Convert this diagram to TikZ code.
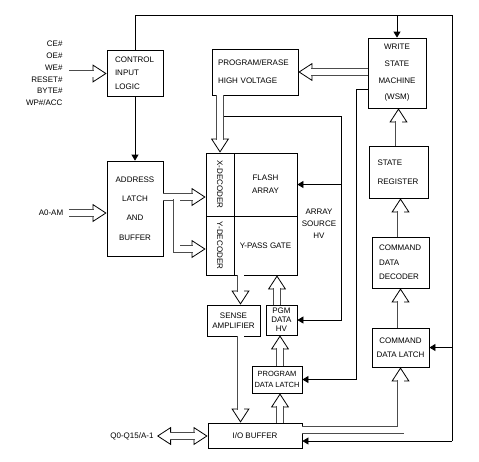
\documentclass[tikz,border=0pt]{standalone}
\usepackage{fontspec}
\setmainfont{Liberation Sans}
\usepackage{graphicx}
\usetikzlibrary{arrows.meta}

\tikzset{
  blk/.style={draw, line width=0.8pt, inner sep=0pt, align=center, font=\fontsize{8}{9.5}\selectfont},
  lbl/.style={font=\fontsize{8}{9.5}\selectfont, align=center},
  wire/.style={line width=0.8pt},
  sig/.style={line width=0.8pt, -{Triangle[length=6pt,width=7pt]}},
  bus/.style={line width=0.8pt, -{Triangle[open,length=14pt,width=18pt]},
    postaction={draw=black!70, double=white, double distance=6pt, shorten >=13pt, arrows=-}},
  busboth/.style={line width=0.8pt, {Triangle[open,length=14pt,width=18pt]}-{Triangle[open,length=14pt,width=18pt]},
    postaction={draw=black!70, double=white, double distance=6pt, shorten >=13pt, shorten <=13pt, arrows=-}},
}

\begin{document}
\begin{tikzpicture}[x=1pt, y=-1pt]
    \useasboundingbox (0,0) rectangle (479,461);

    % Blocos
    \node[blk, minimum width=56pt, minimum height=46pt, text width=40pt, align=left] (ctrl) at (135,73) {CONTROL\\[4pt]INPUT\\[4pt]LOGIC};
    \node[blk, minimum width=86pt, minimum height=46pt, text width=74pt, align=left] (pe) at (255,72) {PROGRAM/ERASE\\[8.5pt]HIGH VOLTAGE};
    \node[blk, minimum width=58pt, minimum height=70pt] (wsm) at (397,73) {WRITE\\[7.2pt]STATE\\[7.2pt]MACHINE\\[7.2pt](WSM)};
    \node[blk, minimum width=56pt, minimum height=95pt] (addr) at (135,208.5) {ADDRESS\\[9.8pt]LATCH\\[9.8pt]AND\\[9.8pt]BUFFER};
    \node[blk, minimum width=28pt, minimum height=63pt] (xdec) at (220,184.5) {\rotatebox{-90}{X-DECODER}};
    \node[blk, minimum width=28pt, minimum height=59pt] (ydec) at (220,245.5) {\rotatebox{-90}{Y-DECODER}};
    \node[blk, minimum width=63pt, minimum height=63pt] (flash) at (265.5,184.5) {FLASH\\[3.5pt]ARRAY};
    \node[blk, minimum width=63pt, minimum height=59pt] (ypass) at (265.5,245.5) {Y-PASS GATE};
    \node[blk, minimum width=53pt, minimum height=31pt] (sense) at (233.5,320.5) {SENSE\\AMPLIFIER};
    \node[blk, minimum width=31pt, minimum height=30pt] (pgmhv) at (281.5,320) {PGM\\[-0.5pt]DATA\\[-0.5pt]HV};
    \node[blk, minimum width=50pt, minimum height=27pt, font=\fontsize{7.5}{9}\selectfont] (pdl) at (277,379.5) {PROGRAM\\[1.5pt]DATA LATCH};
    \node[blk, minimum width=94pt, minimum height=25pt] (io) at (255,435.5) {I/O BUFFER};
    \node[blk, minimum width=59pt, minimum height=52pt, text width=42pt, align=left] (sreg) at (398.5,172) {STATE\\[9.5pt]REGISTER};
    \node[blk, minimum width=57pt, minimum height=51pt, text width=43pt, align=left] (cdd) at (400.5,262.5) {COMMAND\\[5pt]DATA\\[5pt]DECODER};
    \node[blk, minimum width=57pt, minimum height=39pt] (cdl) at (400.5,347.5) {COMMAND\\[4.5pt]DATA LATCH};

    % Sinais externos
    \node[lbl, anchor=east, align=right] (ctlsig) at (66,73.5) {CE\#\\[2.3pt]OE\#\\[2.3pt]WE\#\\[2.3pt]RESET\#\\[2.3pt]BYTE\#\\[2.3pt]WP\#/ACC};
    \node[lbl] (alab) at (51,213) {A0-AM};
    \node[lbl, anchor=east] (qlab) at (157,436) {Q0-Q15/A-1};
    \node[lbl] (ashv) at (319,224) {ARRAY\\[2.5pt]SOURCE\\[2.5pt]HV};

    % Barramentos (setas largas)
    \draw[bus] ([xshift=3pt]ctlsig.east) -- (ctrl.west |- ctlsig.east);
    \draw[bus] ([xshift=2pt]alab.east) -- (alab.east -| addr.west);
    \draw[busboth] (qlab.east) -- (qlab.east -| io.west);
    \draw[bus] (wsm.west |- pe.east) -- (pe.east);
    \draw[bus] (xdec.north |- pe.south) -- (xdec.north);
    \draw[bus] (addr.east |- 0,197) -- (xdec.west |- 0,197);
    \coordinate (abr) at (176.5,199);
    \draw[bus] (abr) |- (ydec.west |- 0,249);
    \draw[bus] ([xshift=7pt]sense.north |- ypass.south) -- ([xshift=7pt]sense.north);
    \draw[bus] ([xshift=-4.5pt]pgmhv.north) -- ([xshift=-4.5pt]pgmhv.north |- ypass.south);
    \draw[bus] ([xshift=3pt]pdl.north) -- ([xshift=3pt]pdl.north |- pgmhv.south);
    \draw[bus] ([xshift=7pt]sense.south) -- ([xshift=7pt]sense.south |- io.north);
    \draw[bus] ([xshift=3pt]pdl.south |- io.north) -- ([xshift=3pt]pdl.south);
    \draw[bus] (io.east |- 0,430) -| (cdl.south);
    \draw[bus] (cdl.north) -- (cdd.south);
    \draw[bus] (cdd.north) -- (cdd.north |- sreg.south);
    \draw[bus] (sreg.north) -- (sreg.north |- wsm.south);

    % Linhas de controle
    \coordinate (ctop) at (135,15);
    \coordinate (rtop) at (452,15);
    \coordinate (rbot) at (452,441);
    \draw[wire] (ctrl.north) -- (ctop) -- (rtop) -- (rbot);
    \draw[sig] (rbot) -- (rbot -| io.east);
    \draw[sig] (wsm.north |- ctop) -- (wsm.north);
    \draw[sig] (rtop |- cdl.east) -- (cdl.east);
    \draw[sig] (ctrl.south) -- (addr.north);

    % Alta tensao
    \coordinate (hvl) at (224,116);
    \coordinate (hvr) at (341,116);
    \draw[sig] (hvl) -- (hvr) |- (pgmhv.east);
    \draw[sig] (hvr |- flash.east) -- (flash.east);

    \coordinate (wsml) at (356,89);
    \draw[sig] (wsm.west |- wsml) -- (wsml) |- (pdl.east);
\end{tikzpicture}
\end{document}
